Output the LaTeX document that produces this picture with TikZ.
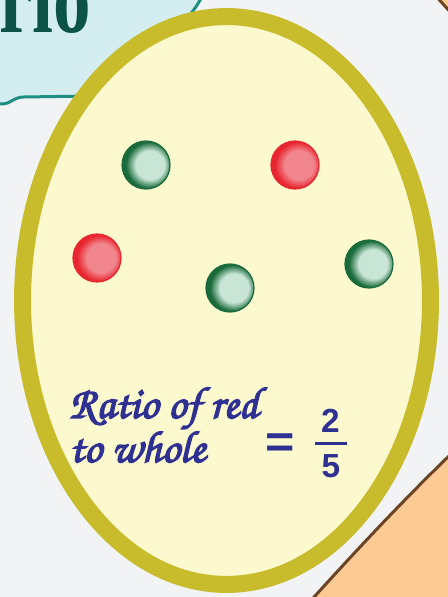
\documentclass[tikz,border=0pt]{standalone}
\usepackage{fontspec}
\setmainfont{Liberation Serif}
\setsansfont{Liberation Sans}
\newfontfamily\handfont{TeX Gyre Chorus}[FakeBold=3]
\usetikzlibrary{positioning}
\definecolor{pagegray}{RGB}{242, 243, 245}
\definecolor{bannercyan}{RGB}{212, 237, 241}
\definecolor{bannerteal}{RGB}{30, 144, 128}
\definecolor{titlegreen}{RGB}{11, 82, 71}
\definecolor{eggfill}{RGB}{252, 249, 207}
\definecolor{eggring}{RGB}{200, 188, 44}
\definecolor{peach}{RGB}{253, 202, 148}
\definecolor{peachline}{RGB}{107, 68, 35}
\definecolor{inkblue}{RGB}{46, 49, 146}
\definecolor{ballgreen}{RGB}{26, 107, 59}
\definecolor{ballmint}{RGB}{201, 229, 213}
\definecolor{ballred}{RGB}{232, 38, 47}
\definecolor{ballpink}{RGB}{242, 134, 142}
\pgfdeclareradialshading{greenshade}{\pgfpoint{6bp}{0bp}}{color(0bp)=(ballmint); color(15bp)=(ballmint); color(24bp)=(ballgreen); color(50bp)=(ballgreen)}
\pgfdeclareradialshading{redshade}{\pgfpoint{6bp}{0bp}}{color(0bp)=(ballpink); color(15bp)=(ballpink); color(24bp)=(ballred); color(50bp)=(ballred)}
\tikzset{
  greenball/.style={circle, minimum size=0.96cm, inner sep=0pt, shading=greenshade, draw=ballgreen, line width=0.7pt},
  redball/.style={circle, minimum size=0.96cm, inner sep=0pt, shading=redshade, draw=ballred, line width=0.7pt},
  handtext/.style={anchor=base west, inner sep=0pt, text=inkblue, font=\handfont\fontsize{25.5}{25.5}\selectfont},
  digit/.style={inner sep=0pt, text=inkblue, font=\sffamily\bfseries\fontsize{19}{19}\selectfont}
}
\begin{document}
\begin{tikzpicture}[x=0.02cm, y=-0.02cm]
        \useasboundingbox (0,0) rectangle (448,597);
        \clip (0,0) rectangle (448,597);
        \fill[pagegray] (0,0) rectangle (448,597);
        % peach shapes
        \draw[fill=peach, draw=peachline, line width=0.06cm] (472,434) .. controls (408,494) and (348,559) .. (288,626) -- (472,626) -- cycle;
        \draw[fill=peach, draw=peachline, line width=0.06cm] (434,-6) -- (453,15) -- (453,-6) -- cycle;
        % title banner
        \draw[fill=bannercyan, draw=bannerteal, line width=0.06cm] (-10,-10) -- (206,-10) -- (199,2) .. controls (185,25) and (150,60) .. (90,96) -- (24,97) .. controls (14,97) and (10,104) .. (3,104) -- (-10,103) -- cycle;
        \node[anchor=base west, inner sep=0pt, xscale=0.75, text=titlegreen, font=\bfseries\fontsize{57}{57}\selectfont] (title) at (-1,33) {rio};
        % egg
        \draw[eggring, fill=eggfill, line width=0.34cm] (226.5,300.5) ellipse [x radius=4.08cm, y radius=5.68cm];
        % balls
        \node[greenball] (g1) at (146,165) {};
        \node[redball] (r1) at (295,165) {};
        \node[redball] (r2) at (97,258) {};
        \node[greenball] (g2) at (230,288) {};
        \node[greenball] (g3) at (369,264) {};
        % ratio text
        \node[handtext] (line1) at (69,418) {Ratio of red};
        \node[handtext] (line2) at (69,462) {to whole};
        \node[inner sep=0pt, text=inkblue, xscale=1.1, font=\sffamily\bfseries\fontsize{26}{26}\selectfont] (eq) at (280.5,446) {=};
        \node[digit] (num) at (330.5,421) {2};
        \node[digit] (den) at (331,466.5) {5};
        \coordinate (barl) at (315,443);
        \coordinate (barr) at (347,443);
        \draw[inkblue, line width=0.06cm] (barl) -- (barr);
      \end{tikzpicture}
\end{document}
